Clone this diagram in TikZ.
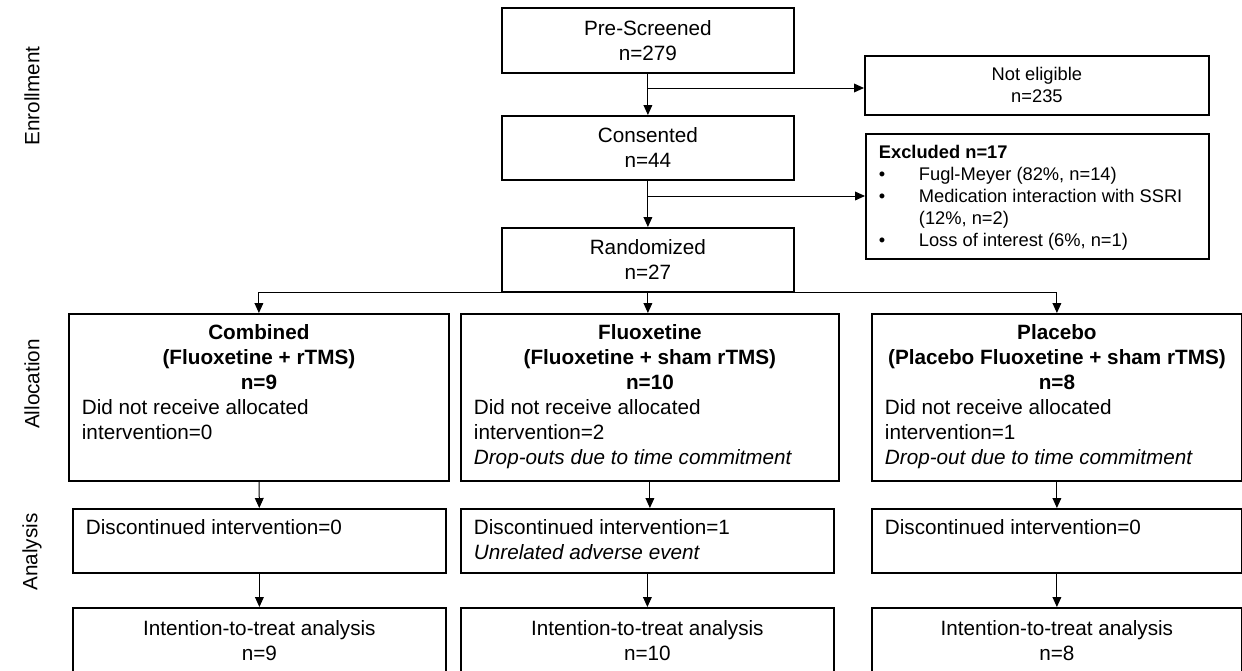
\documentclass[tikz,border=0pt]{standalone}
\usepackage{fontspec}
\setmainfont{Liberation Sans}
\usetikzlibrary{arrows.meta}

\newcommand{\mainsize}{\fontsize{10.35pt}{12.5pt}\selectfont}
\newcommand{\smallsize}{\fontsize{9.15pt}{11pt}\selectfont}
\newcommand{\exitem}[1]{\par\noindent\hangindent=20pt\hangafter=1\makebox[20pt][l]{\textbullet}#1}

\tikzset{
  box/.style={draw, line width=0.9pt, inner sep=0pt, anchor=north west, align=center, font=\mainsize},
  topbox/.style={box, inner xsep=6.5pt, inner ysep=5.5pt, align=left},
  arr/.style={-{Triangle[length=5pt,width=4.4pt]}, line width=0.5pt},
  side/.style={rotate=90, font=\mainsize},
}

\begin{document}
\begin{tikzpicture}[x=0.5pt, y=-0.5pt]
		\useasboundingbox (0,0) rectangle (1242,670);
		\clip (0,0) rectangle (1242,670);

		% 段階ラベル
		\node[side] (enr) at (32,96) {Enrollment};
		\node[side] (alo) at (32,384) {Allocation};
		\node[side] (ana) at (32,552) {Analysis};

		% 登録
		\node[box, minimum width=146pt, minimum height=32.5pt] (pre) at (501,7) {Pre-Screened\\n=279};
		\node[box, minimum width=146pt, minimum height=32pt] (cons) at (501,115) {Consented\\n=44};
		\node[box, minimum width=146pt, minimum height=32pt] (rand) at (501,227) {Randomized\\n=27};
		\node[box, font=\smallsize, minimum width=172pt, minimum height=29.5pt] (notel) at (864,55) {Not eligible\\n=235};
		\node[topbox, font=\smallsize] (excl) at (865,133) {\parbox[c][51.5pt][t]{158.5pt}{\raggedright
			\textbf{Excluded n=17}
			\exitem{Fugl-Meyer (82\%, n=14)}
			\exitem{Medication interaction with SSRI\newline(12\%, n=2)}
			\exitem{Loss of interest (6\%, n=1)}}};

		% 割付
		\node[topbox] (comb) at (68,313) {\parbox[c][72.5pt][t]{177pt}{\raggedright
			{\centering\bfseries Combined\\(Fluoxetine + rTMS)\\n=9\par}
			Did not receive allocated\\intervention=0}};
		\node[topbox] (fluo) at (460,313) {\parbox[c][72.5pt][t]{176pt}{\raggedright
			{\centering\bfseries Fluoxetine\\(Fluoxetine + sham rTMS)\\n=10\par}
			Did not receive allocated\\intervention=2\\\textit{Drop-outs due to time commitment}}};
		\node[topbox] (plac) at (871,313) {\parbox[c][72.5pt][t]{172pt}{\raggedright
			{\centering\bfseries Placebo\\(Placebo Fluoxetine + sham rTMS)\\n=8\par}
			Did not receive allocated\\intervention=1\\\textit{Drop-out due to time commitment}}};

		% 中止
		\node[topbox] (combD) at (72,508) {\parbox[c][21pt][t]{173.5pt}{\raggedright
			Discontinued intervention=0}};
		\node[topbox] (fluoD) at (460,508) {\parbox[c][21pt][t]{173.5pt}{\raggedright
			Discontinued intervention=1\\\textit{Unrelated adverse event}}};
		\node[topbox] (placD) at (871,508) {\parbox[c][21pt][t]{172pt}{\raggedright
			Discontinued intervention=0}};

		% 解析
		\node[box, minimum width=186.5pt, minimum height=33pt] (combI) at (72,607) {Intention-to-treat analysis\\n=9};
		\node[box, minimum width=186.5pt, minimum height=33pt] (fluoI) at (460,607) {Intention-to-treat analysis\\n=10};
		\node[box, minimum width=185pt, minimum height=33pt] (placI) at (871,607) {Intention-to-treat analysis\\n=8};

		% 矢印を描画
		\coordinate (b1) at (647,88);
		\coordinate (b2) at (647,196);
		\draw[arr] (pre) -- (cons);
		\draw[arr] (b1) -- (b1 -| notel.west);
		\draw[arr] (cons) -- (rand);
		\draw[arr] (b2) -- (b2 -| excl.west);
		\draw[arr] (rand.south west) -| (comb.north);
		\draw[arr] (rand.south) -- (rand.south |- fluo.north);
		\draw[arr] (rand.south east) -| (plac.north);
		\draw[arr] (comb) -- (combD);
		\draw[arr] (fluo.south) -- (fluo.south |- fluoD.north);
		\draw[arr] (plac) -- (placD);
		\draw[arr] (combD) -- (combI);
		\draw[arr] (fluoD) -- (fluoI);
		\draw[arr] (placD) -- (placI);
	\end{tikzpicture}
\end{document}
